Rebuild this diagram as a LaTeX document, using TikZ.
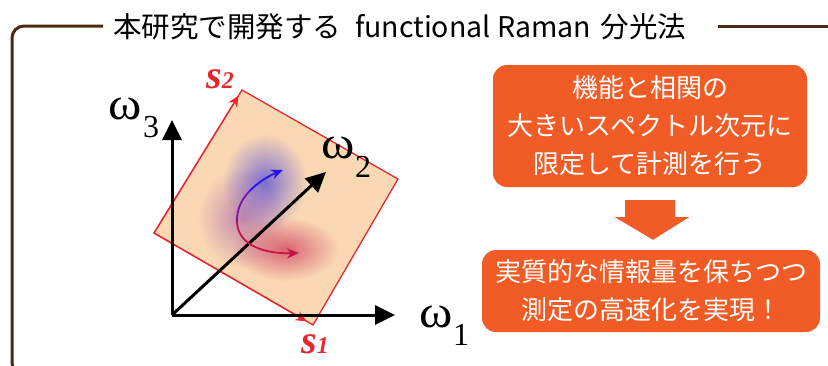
\documentclass[tikz,border=0pt]{standalone}
\usepackage{fontspec}
\setmainfont{Liberation Serif}
\newfontfamily\jp{Noto Sans CJK JP}
\usetikzlibrary{arrows.meta,fadings,calc}
\definecolor{frameBrown}{RGB}{75,40,15}
\definecolor{peach}{RGB}{250,216,180}
\definecolor{sqred}{RGB}{232,38,48}
\definecolor{boxorange}{RGB}{241,92,38}
\definecolor{blobblue}{RGB}{95,85,215}
\definecolor{blobpurple}{RGB}{150,70,165}
\definecolor{blobred}{RGB}{205,60,95}
\definecolor{arrblue}{RGB}{40,20,230}
\definecolor{arrpurple}{RGB}{120,20,170}
\definecolor{arrred}{RGB}{195,20,70}
\tikzfading[name=softfade, inner color=transparent!0, outer color=transparent!100]
\tikzset{
  frameline/.style={draw=frameBrown, line width=3pt, rounded corners=12pt},
  axis/.style={line width=3pt, -{Triangle[length=20pt,width=19pt]}},
  sarrow/.style={draw=sqred, line width=1.3pt, -{Stealth[length=11pt,width=10pt]}},
  omegalab/.style={inner sep=0pt, font=\fontsize{46}{46}\selectfont, xscale=1.1},
  sublab/.style={inner sep=0pt, font=\fontsize{32}{32}\selectfont},
  slab/.style={inner sep=0pt, anchor=base west, text=sqred, font=\bfseries\itshape\fontsize{40}{40}\selectfont},
  obox/.style={fill=boxorange, rounded corners=14pt, text=white, align=center, inner sep=0pt,
    font=\jp\fontsize{26}{38}\selectfont},
  curvearr/.style={line width=1.8pt, -{Stealth[length=12pt,width=10pt]}},
  curveseg/.style={line width=1.8pt}
}
\begin{document}
\begin{tikzpicture}[x=1pt,y=-1pt]
\useasboundingbox (0,0) rectangle (828,365);
\clip (0,0) rectangle (828,365);
% frame
\draw[frameline] (103,26) -- (12,26) -- (12,375) -- (120,375);
\draw[frameline] (718,26) -- (840,26);
\node[font=\jp\fontsize{28.5}{28.5}\selectfont, anchor=west, inner sep=0pt] (title) at (113,27)
  {本研究で開発する\hspace{14pt}functional Raman\hspace{10pt}分光法};
% square
\coordinate (sqT) at (242,90);
\coordinate (sqR) at (398,179);
\coordinate (sqB) at (313,325);
\coordinate (sqL) at (154,233);
\fill[peach] (sqT) -- (sqR) -- (sqB) -- (sqL) -- cycle;
% blob
\fill[blobpurple, path fading=softfade, opacity=0.55] (242,218) ellipse [x radius=44, y radius=50];
\fill[blobblue, path fading=softfade, opacity=0.8] (265,182) ellipse [x radius=42, y radius=48];
\fill[blobred, path fading=softfade, opacity=0.75] (285,249) ellipse [x radius=54, y radius=32];
% square border and s arrows
\draw[sqred, line width=1.3pt] (sqT) -- (sqR) -- (sqB) -- (sqL) -- cycle;
\draw[sarrow] (sqL) -- ($(sqL)!0.96!(sqB)$);
\draw[sarrow] (sqL) -- ($(sqL)!0.96!(sqT)$);
\node[slab] (s2) at (206,88) {s{\fontsize{24}{24}\selectfont 2}};
\node[slab] (s1) at (301,353) {s{\fontsize{24}{24}\selectfont 1}};
% axes
\coordinate (O) at (172,315);
\coordinate (w3tip) at (172,120);
\coordinate (w1tip) at (395,315);
\coordinate (w2tip) at (326,172);
\draw[axis] (O) -- (w3tip);
\draw[axis] (O) -- (w1tip);
\draw[axis] (O) -- (w2tip);
\node[omegalab] (w3) at (125,109) {ω};
\node[sublab] (w3s) at (151,127) {3};
\node[omegalab] (w2) at (338,148) {ω};
\node[sublab] (w2s) at (363,167) {2};
\node[omegalab] (w1) at (436,317) {ω};
\node[sublab] (w1s) at (461,335) {1};
% curved arrows
\coordinate (cMid) at (237,222);
\coordinate (cHalf) at (249.5,191.1);
\coordinate (cTop) at (283,170);
\coordinate (cBot) at (299,253);
\draw[curveseg, arrpurple] (cMid) .. controls (236.5,210) and (241.25,199.75) .. (cHalf);
\draw[curvearr, arrblue] (cHalf) .. controls (257.75,182.5) and (269.5,175.5) .. (cTop);
\draw[curvearr, arrred] (cMid) .. controls (238,246) and (266,254) .. (cBot);
% boxes
\node[obox, minimum width=314pt, minimum height=122pt] (box1) at (650,126)
  {機能と相関の\\大きいスペクトル次元に\\限定して計測を行う};
\node[obox, minimum width=338pt, minimum height=82pt] (box2) at (651,291)
  {実質的な情報量を保ちつつ\\測定の高速化を実現！};
% block arrow
\fill[boxorange] ($(box1.south)+(-25,13)$) -- ++(50,0) -- ++(0,17) -- ++(14,0)
  -- ($(box2.north)+(2,-10)$) -- ($(box1.south)+(-35,30)$) -- ++(10,0) -- cycle;
\end{tikzpicture}
\end{document}
